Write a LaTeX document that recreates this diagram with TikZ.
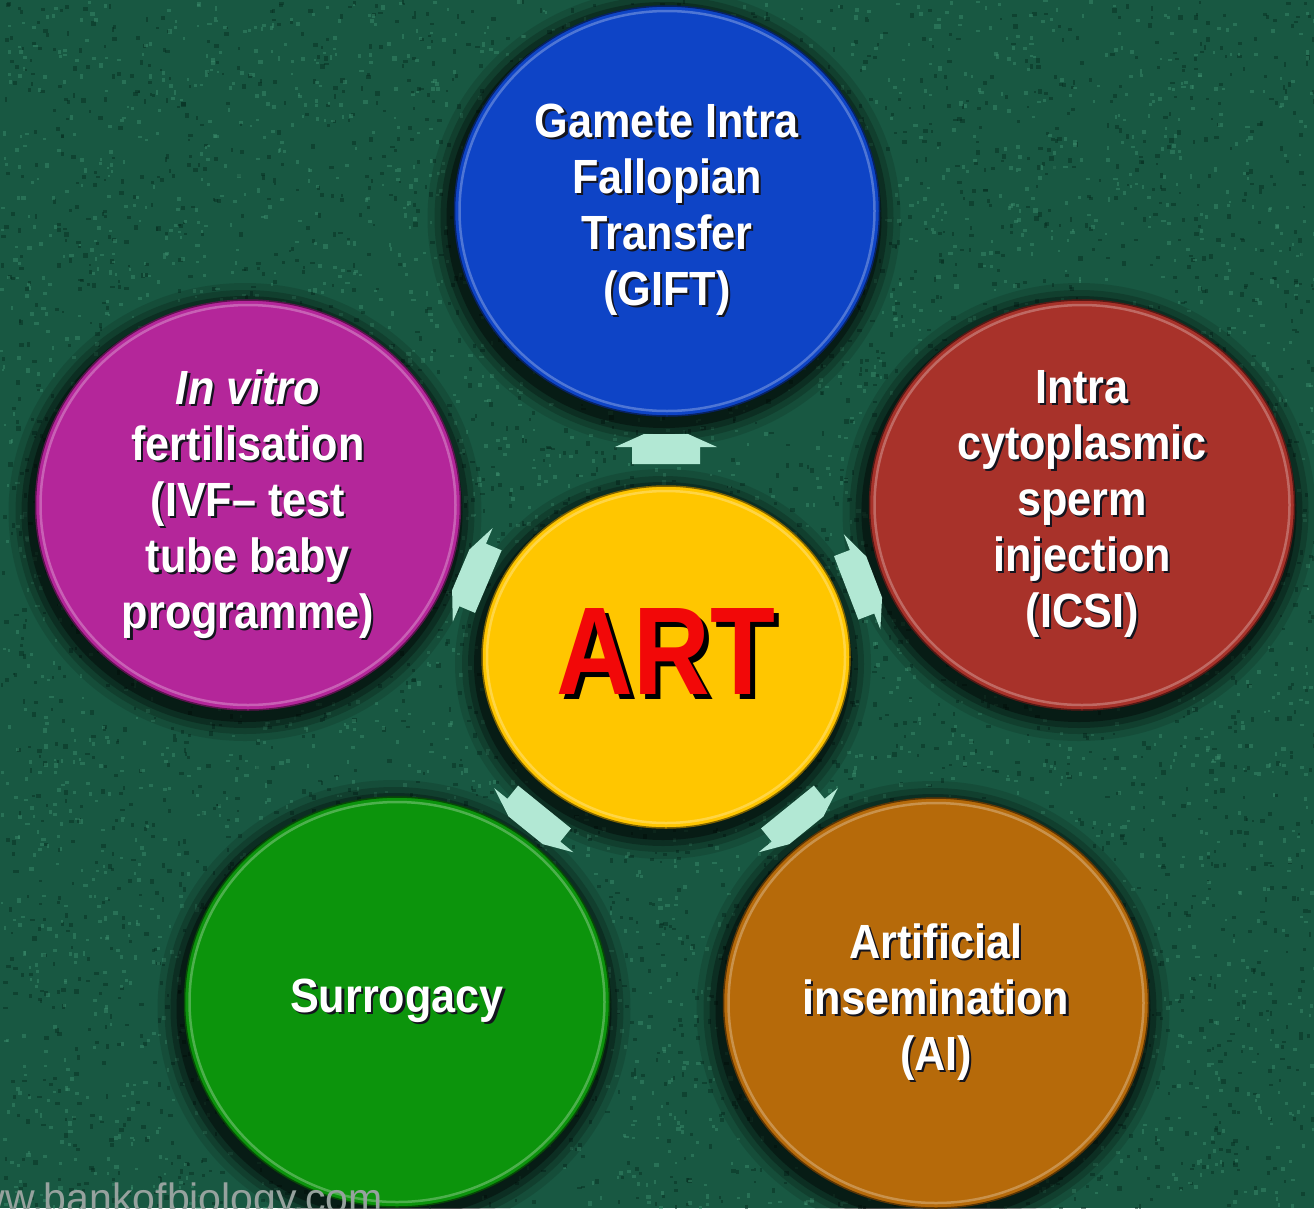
\documentclass[tikz,border=0pt]{standalone}
\usepackage{fontspec}
\setmainfont{Liberation Sans}
\newfontfamily\narrowsans[FakeStretch=0.9]{Liberation Sans}
\newfontfamily\artsans[FakeStretch=0.85]{Liberation Sans}
\usetikzlibrary{shapes.geometric}
\definecolor{bg}{RGB}{24,88,66}
\definecolor{bgl}{RGB}{64,148,114}
\definecolor{bgd}{RGB}{6,42,30}
\definecolor{giftc}{RGB}{14,68,198}
\definecolor{icsic}{RGB}{168,50,42}
\definecolor{ivfc}{RGB}{180,38,154}
\definecolor{artc}{RGB}{255,198,0}
\definecolor{surc}{RGB}{12,148,12}
\definecolor{aic}{RGB}{182,106,10}
\definecolor{artred}{RGB}{242,8,8}
\definecolor{mint}{RGB}{178,232,212}
\definecolor{wmc}{RGB}{150,162,158}
\definecolor{txtsh}{RGB}{20,20,30}
\newcommand\lsh[1]{\leavevmode\rlap{\kern2.2pt\raisebox{-2.2pt}{\color{txtsh}#1}}#1}
\newcommand\bigsh[1]{\leavevmode\rlap{\kern5pt\raisebox{-5pt}{\color{black}#1}}#1}
\newcommand\softshadow[4]{%
  \foreach \k/\o in {24/.12,17/.18,11/.26,5/.38}{%
    \fill[black,opacity=\o] (#1-3,#2+7) ellipse [x radius=#3+\k, y radius=#4+\k];}}
\newcommand\rimring[5]{%
  \draw[#5!55!white, line width=2.5pt, opacity=.6] (#1,#2) ellipse [x radius=#3-5, y radius=#4-5];
  \draw[#5!50!black, line width=1.5pt] (#1,#2) ellipse [x radius=#3, y radius=#4];}
\tikzset{
  disc/.style={ellipse, minimum width=425pt, minimum height=410pt, inner sep=0pt,
    text=white, align=center, font=\narrowsans\bfseries\fontsize{48}{56}\selectfont},
  artdisc/.style={ellipse, minimum width=368pt, minimum height=342pt, inner sep=0pt,
    text=artred, font=\artsans\bfseries\fontsize{125}{125}\selectfont},
  arrowshape/.style={fill=mint},
}
\begin{document}
\begin{tikzpicture}[x=1pt,y=-1pt]
\useasboundingbox (0,0) rectangle (1314,1208);
\clip (0,0) rectangle (1314,1208);
\fill[bg] (0,0) rectangle (1314,1208);
\pgfmathsetseed{42}
\foreach \i in {1,...,4000}{\fill[bgd,opacity=.45] (rnd*1314,rnd*1208) rectangle ++(2+rnd*3,2+rnd*3);}
\foreach \i in {1,...,4000}{\fill[bgl,opacity=.42] (rnd*1314,rnd*1208) rectangle ++(2+rnd*2.5,2+rnd*2.5);}

% shadows
\softshadow{667}{211}{212.5}{205}
\softshadow{1082}{505}{212.5}{205}
\softshadow{248}{505}{212.5}{205}
\softshadow{666}{657}{184}{171}
\softshadow{397}{1002}{212.5}{205}
\softshadow{936}{1003}{212.5}{205}

% discs
\node[disc, fill=giftc] (gift) at (667,211)
  {\lsh{Gamete Intra}\\\lsh{Fallopian}\\\lsh{Transfer}\\\lsh{(GIFT)}};
\node[disc, fill=icsic] (icsi) at (1082,505)
  {\lsh{Intra}\\\lsh{cytoplasmic}\\\lsh{sperm}\\\lsh{injection}\\\lsh{(ICSI)}};
\node[disc, fill=ivfc] (ivf) at (248,505)
  {\lsh{\textit{In vitro}}\\\lsh{fertilisation}\\\lsh{(IVF– test}\\\lsh{tube baby}\\\lsh{programme)}};
\node[disc, fill=surc] (sur) at (397,1002) {\lsh{Surrogacy}};
\node[disc, fill=aic] (ai) at (936,1003)
  {\lsh{Artificial}\\\lsh{insemination}\\\lsh{(AI)}};
\node[artdisc, fill=artc] (art) at (666,657) {\raisebox{12pt}{\bigsh{ART}}};

\rimring{667}{211}{212.5}{205}{giftc}
\rimring{1082}{505}{212.5}{205}{icsic}
\rimring{248}{505}{212.5}{205}{ivfc}
\rimring{666}{657}{184}{171}{artc}
\rimring{397}{1002}{212.5}{205}{surc}
\rimring{936}{1003}{212.5}{205}{aic}

% block arrows from ART towards each disc
\foreach \a in {90,21,157,-129,-51}{
  \begin{scope}[shift={(art.center)}, rotate=\a-90]
    \fill[arrowshape] (-34,-193) -- (-34,-210) -- (-51,-210) -- (-22,-223)
      -- (22,-223) -- (51,-210) -- (34,-210) -- (34,-193) -- cycle;
  \end{scope}}

% watermark
\node[anchor=base east, inner sep=0pt, text=wmc, font=\fontsize{41}{41}\selectfont]
  (wm) at (383,1212) {www.bankofbiology.com};
\end{tikzpicture}
\end{document}
